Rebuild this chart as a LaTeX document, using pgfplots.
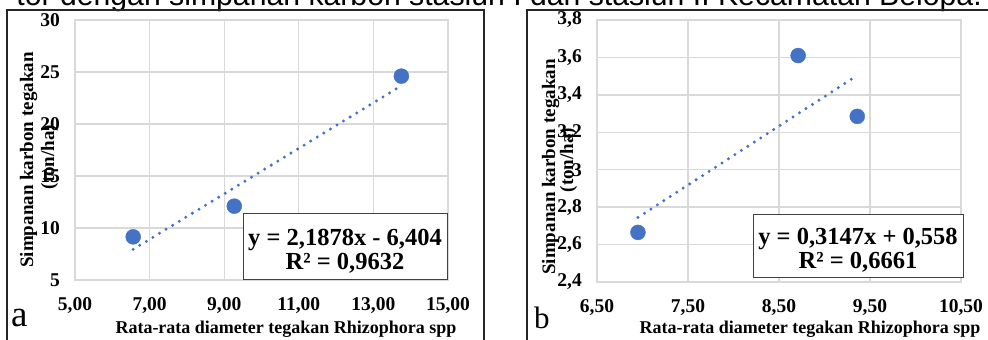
\documentclass[border=0pt]{standalone}
\usepackage{fontspec}
\setmainfont{Liberation Serif}
\newfontfamily\capfont{Liberation Sans}
\usepackage{pgfplots}
\pgfplotsset{compat=1.18}
\definecolor{mblue}{HTML}{4472C4}
\definecolor{gridc}{HTML}{D9D9D9}
\pgfplotsset{
 mystyle/.style={
  scale only axis,
  axis line style={draw=gridc, line width=1.3pt},
  grid=major,
  major grid style={draw=gridc, line width=1.3pt},
  major tick length=0pt,
  tick label style={font=\bfseries\fontsize{19.5}{19.5}\selectfont, inner sep=0pt},
  /pgf/number format/assume math mode=true,
  /pgf/number format/use comma,
  xticklabel style={yshift=-17pt},
  yticklabel style={xshift=-15pt},
  clip=false,
 },
 trend/.style={mblue, line width=3.3pt, line cap=round, dash pattern=on 0pt off 7.7pt},
 pts/.style={only marks, mark=*, mark size=7.5pt, mark options={draw=mblue, fill=mblue}},
}
\begin{document}
\begin{tikzpicture}[x=1pt,y=1pt]
\useasboundingbox (0,0) rectangle (988,340);
\begin{scope}
\clip (0,0) rectangle (988,340);
\node[anchor=base east, inner sep=0pt, font=\capfont\fontsize{30.2}{30.2}\selectfont] at (982,334) {tor dengan simpanan karbon stasiun I dan stasiun II Kecamatan Belopa.};
\draw[line width=1.3pt, draw=black!85] (7,-10) -- (7,330) -- (484,330) -- (484,-10);
\draw[line width=1.3pt, draw=black!85] (527,-10) -- (527,330) -- (1000,330);
\end{scope}

\begin{axis}[mystyle, at={(75pt,60pt)}, anchor=south west, width=373pt, height=260pt,
  xmin=5, xmax=15, ymin=5, ymax=30,
  xtick={5,7,9,11,13,15}, ytick={5,10,15,20,25,30},
  xticklabel style={/pgf/number format/.cd, fixed, fixed zerofill, precision=2}]
\addplot[trend] coordinates {(6.56,7.948) (13.75,23.678)};
\addplot[pts] coordinates {(6.56,9.15) (9.27,12.1) (13.75,24.6)};
\end{axis}

\begin{axis}[mystyle, at={(597pt,58pt)}, anchor=south west, width=364pt, height=262pt,
  xmin=6.5, xmax=10.5, ymin=2.4, ymax=3.8,
  xtick={6.5,7.5,8.5,9.5,10.5}, ytick={2.4,2.6,2.8,3.0,3.2,3.4,3.6,3.8},
  xticklabel style={/pgf/number format/.cd, fixed, fixed zerofill, precision=2},
  yticklabel style={/pgf/number format/.cd, fixed, precision=1}]
\addplot[trend] coordinates {(6.95,2.745) (9.36,3.504)};
\addplot[pts] coordinates {(6.95,2.665) (8.71,3.61) (9.36,3.285)};
\end{axis}

% equation boxes
\draw[draw=black!75, line width=1pt, fill=white] (243,60) rectangle (447,126);
\node[anchor=base, inner sep=0pt, font=\bfseries\fontsize{24.5}{24.5}\selectfont] at (345,94) {y = 2,1878x - 6,404};
\node[anchor=base, inner sep=0pt, font=\bfseries\fontsize{24.5}{24.5}\selectfont] at (345,70) {R² = 0,9632};
\draw[draw=black!75, line width=1pt, fill=white] (753,62) rectangle (963,125);
\node[anchor=base, inner sep=0pt, font=\bfseries\fontsize{24.5}{24.5}\selectfont] at (858,95) {y = 0,3147x + 0,558};
\node[anchor=base, inner sep=0pt, font=\bfseries\fontsize{24.5}{24.5}\selectfont] at (858,71) {R² = 0,6661};

% axis titles
\node[anchor=base, inner sep=0pt, font=\bfseries\fontsize{18}{18}\selectfont] at (286,6) {Rata-rata diameter tegakan Rhizophora spp};
\node[anchor=base, inner sep=0pt, font=\bfseries\fontsize{18}{18}\selectfont] at (810,6) {Rata-rata diameter tegakan Rhizophora spp};
\node[rotate=90, anchor=base, inner sep=0pt, font=\bfseries\fontsize{19}{19}\selectfont] at (33,180) {Simpanan karbon tegakan};
\node[rotate=90, anchor=base, inner sep=0pt, font=\bfseries\fontsize{19}{19}\selectfont] at (54,183) {(ton/ha)};
\node[rotate=90, anchor=base, inner sep=0pt, font=\bfseries\fontsize{19}{19}\selectfont] at (555,173) {Simpanan karbon tegakan};
\node[rotate=90, anchor=base, inner sep=0pt, font=\bfseries\fontsize{19}{19}\selectfont] at (573,180) {(ton/ha)};

% panel letters
\node[anchor=base west, inner sep=0pt, font=\fontsize{37}{37}\selectfont] at (11,13) {a};
\node[anchor=base west, inner sep=0pt, font=\fontsize{31}{31}\selectfont] at (534,12) {b};
\end{tikzpicture}
\end{document}
